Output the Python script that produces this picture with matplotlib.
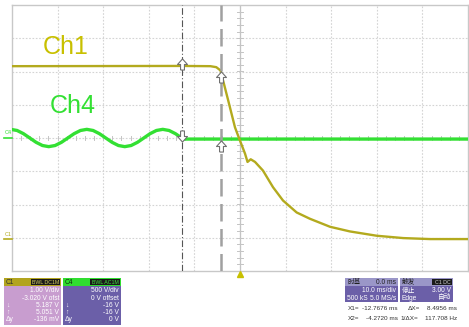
import numpy as np
import matplotlib
matplotlib.use("Agg")
import matplotlib.pyplot as plt
from matplotlib.patches import Rectangle

plt.rcParams['font.family'] = ['Liberation Sans', 'Noto Sans CJK SC', 'DejaVu Sans']

# 示波器设置
time_div = 10.0          # ms/div
ch1_vdiv = 1.00          # V/div
ch1_offset = -3.020      # V
ch4_vdiv = 500.0         # V/div
ch4_offset = 0.0
x1_cursor = -12.7676     # ms
x2_cursor = -4.2720      # ms
ch1_at_x1, ch1_at_x2 = 5.187, 5.051
ch4_at_x1, ch4_at_x2 = -16.0, -16.0

# Ch1 波形 (ms, V)
ch1_t = [-50.0, -12.77, -6.5, -5.2, -4.27, -2.57, -1.10, 0.0, 1.10, 1.65, 2.35,
         3.30, 5.04, 7.24, 9.43, 12.43, 15.35, 19.74, 24.1, 30.0, 35.8, 41.7, 50.0]
ch1_v = [5.18, 5.187, 5.18, 5.15, 5.051, 4.14, 3.34, 2.94, 2.55, 2.30, 2.38,
         2.30, 2.04, 1.54, 1.14, 0.78, 0.59, 0.35, 0.21, 0.08, 0.01, -0.02, -0.02]

# Ch4 波形 (ms, V)
ch4_t = [-50.27, -48.88, -47.49, -46.10, -44.71, -43.32, -41.94, -40.55, -39.16,
         -37.77, -36.38, -34.99, -33.60, -32.21, -30.83, -29.44, -28.05, -26.66,
         -25.27, -23.88, -22.49, -21.10, -19.72, -18.33, -16.94, -15.55, -14.16,
         -12.77, -12.3, 50.0]
ch4_v = [130, 113, 65, 0, -65, -113, -130, -113, -65,
         0, 65, 113, 130, 113, 65, 0, -65, -113,
         -130, -113, -65, 0, 65, 113, 130, 113, 65,
         0, -16, -16]

W, H = 469, 327
fig = plt.figure(figsize=(W / 100, H / 100), dpi=100)
ax = fig.add_axes([12 / W, 1 - 271 / H, 456 / W, 266 / H])
ax.set_xlim(-5 * time_div, 5 * time_div)
ax.set_ylim(-4, 4)
ax.set_xticks([])
ax.set_yticks([])
for s in ax.spines.values():
    s.set_color('#c8c8c8')
    s.set_linewidth(1.0)

# 网格
for gx in np.arange(-40, 41, 10):
    ax.axvline(gx, color='#d4d4d4', lw=0.8, ls=(0, (1.5, 1.5)), zorder=0)
for gy in np.arange(-3, 4, 1):
    ax.axhline(gy, color='#d4d4d4', lw=0.8, ls=(0, (1.5, 1.5)), zorder=0)
ax.axvline(0, color='#c4c4c4', lw=0.9, zorder=0)
for ty in np.arange(-4, 4.01, 0.2):
    ax.plot([-0.6, 0.6], [ty, ty], color='#c4c4c4', lw=0.7, zorder=0)
for tx in np.arange(-50, 50.1, 2):
    ax.plot([tx, tx], [-0.06, 0.06], color='#c4c4c4', lw=0.7, zorder=0)

yel = '#b3aa1e'
grn = '#33e033'

ch1_div = np.array(ch1_v) / ch1_vdiv + ch1_offset / ch1_vdiv
ch4_div = np.array(ch4_v) / ch4_vdiv + ch4_offset / ch4_vdiv
ax.plot(ch4_t, ch4_div, color=grn, lw=2.4, solid_joinstyle='round', zorder=3)
ax.plot(ch1_t, ch1_div, color=yel, lw=1.7, zorder=4)

# 光标
ax.axvline(x1_cursor, color='#555555', lw=0.8, ls=(0, (6, 2, 1, 2)), zorder=5)
ax.axvline(x2_cursor, color='#a0a0a0', lw=1.8, ls=(0, (7, 3)), zorder=5)

up = [(-0.35, -1), (0.35, -1), (0.35, 0), (0.9, 0), (0, 1), (-0.9, 0), (-0.35, 0), (-0.35, -1)]
down = [(x, -y) for x, y in up]
mk = dict(ms=8, mfc='white', mec='#707070', mew=0.8, ls='none', zorder=6)
ax.plot([x1_cursor], [ch1_at_x1 / ch1_vdiv + ch1_offset / ch1_vdiv + 0.05], marker=up, **mk)
ax.plot([x1_cursor], [ch4_at_x1 / ch4_vdiv + 0.1], marker=down, **mk)
ax.plot([x2_cursor], [ch1_at_x2 / ch1_vdiv + ch1_offset / ch1_vdiv - 0.2], marker=up, **mk)
ax.plot([x2_cursor], [ch4_at_x2 / ch4_vdiv - 0.2], marker=up, **mk)

# 触发位置
ax.plot([0], [-4.1], marker='^', ms=5, color='#c8c000', clip_on=False, zorder=6)

ax.text(-43.3, 2.75, 'Ch1', color='#c8c000', fontsize=18, va='center', ha='left')
ax.text(-41.8, 0.95, 'Ch4', color=grn, fontsize=18, va='center', ha='left')


def px(x, y):
    return x / W, 1 - y / H


def box(x0, y0, x1, y1, color):
    fig.add_artist(Rectangle((x0 / W, 1 - y1 / H), (x1 - x0) / W, (y1 - y0) / H,
                             transform=fig.transFigure, color=color, lw=0))


def txt(x, y, s, ha='left', color='white', size=4.8, **kw):
    fig.text(*px(x, y), s, ha=ha, va='center', color=color, fontsize=size, **kw)


# 通道零点标记
txt(5, 133, 'C4', color=grn, size=4)
fig.add_artist(plt.Line2D([4 / W, 12 / W], [1 - 138 / H, 1 - 138 / H], color=grn, lw=1.2))
txt(5, 234, 'C1', color=yel, size=4)
fig.add_artist(plt.Line2D([4 / W, 12 / W], [1 - 238.5 / H, 1 - 238.5 / H], color=yel, lw=1.2))

# 通道信息面板
rows = [291, 298.2, 305.4, 312.6, 319.8]
box(4, 278, 61, 325, '#c89dcf')
box(4, 278, 61, 286, '#b2a41e')
box(31, 279, 60, 285, '#1a1a1a')
txt(6, 282, 'C1', color='#303030')
txt(59, 282, 'BWL DC1M', ha='right', color='#d8d060', size=3.8)
for y, s in zip(rows, ['1.00 V/div', '-3.020 V ofst', '5.187 V', '5.051 V', '-136 mV']):
    txt(59, y, s, ha='right')
for y, s in zip(rows[2:], ['↓', '↑', 'Δy']):
    txt(6, y, s)

box(63, 278, 121, 325, '#6b5fa8')
box(63, 278, 121, 286, '#30dd30')
box(90, 279, 120, 285, '#1a1a1a')
txt(65, 282, 'C4', color='#103010')
txt(119, 282, 'BWL AC1M', ha='right', color='#40e040', size=3.8)
for y, s in zip(rows, ['500 V/div', '0 V offset', '-16 V', '-16 V', '0 V']):
    txt(119, y, s, ha='right')
for y, s in zip(rows[2:], ['↓', '↑', 'Δy']):
    txt(65, y, s)

# 时基 / 触发
box(345, 278, 398, 302, '#6b5fa8')
box(345, 278, 398, 286, '#9a96c8')
txt(347, 282, '时基', color='#202020')
txt(396, 282, '0.0 ms', ha='right', color='#202020')
txt(396, 291, '10.0 ms/div', ha='right')
txt(347, 298, '500 kS', ha='left')
txt(396, 298, '5.0 MS/s', ha='right')

box(400, 278, 453, 302, '#6b5fa8')
box(400, 278, 453, 286, '#9a96c8')
box(432, 279, 452, 285, '#1a1a1a')
txt(402, 282, '触发', color='#202020')
txt(451, 282, 'C1 DC', ha='right', color='#d0d0d0', size=3.8)
txt(402, 291, '停止')
txt(451, 291, '3.00 V', ha='right')
txt(402, 298, 'Edge')
txt(451, 298, '自动', ha='right')

# 光标读数
rc = dict(color='#333333', size=4.6)
txt(348, 309, 'X1=', **rc)
txt(398, 309, '-12.7676 ms', ha='right', **rc)
txt(408, 309, 'ΔX=', **rc)
txt(457, 309, '8.4956 ms', ha='right', **rc)
txt(348, 318, 'X2=', **rc)
txt(398, 318, '-4.2720 ms', ha='right', **rc)
txt(400, 318, '1/ΔX=', **rc)
txt(457, 318, '117.708 Hz', ha='right', **rc)

fig.savefig('out.png', dpi=100, facecolor='white')
